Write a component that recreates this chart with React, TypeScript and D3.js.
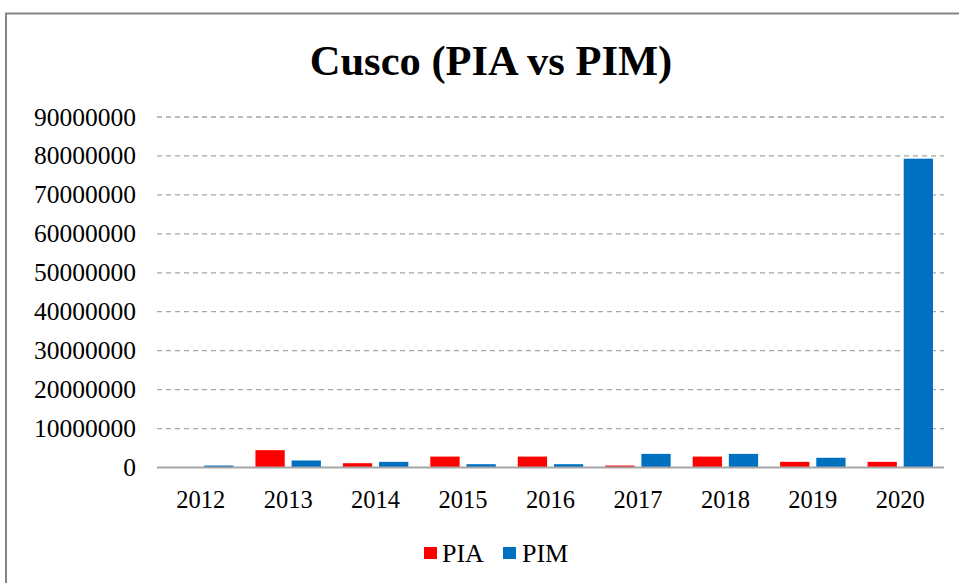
import React from "react";
import * as d3 from "d3";

const years = ["2012", "2013", "2014", "2015", "2016", "2017", "2018", "2019", "2020"];
const pia = [0, 4450000, 1100000, 2800000, 2800000, 500000, 2800000, 1450000, 1450000];
const pim = [500000, 1800000, 1450000, 850000, 850000, 3500000, 3500000, 2500000, 79300000];
const yTicks = [0, 10000000, 20000000, 30000000, 40000000, 50000000, 60000000, 70000000, 80000000, 90000000];
const seriesNames = ["PIA", "PIM"];
const colors = ["#ff0000", "#0070c0"];

export default function App() {
  const W = 959, H = 583;
  const left = 157, right = 944, top = 117, bottom = 467.5;
  const x = d3.scaleBand().domain(years).range([left, right]).paddingInner(0).paddingOuter(0);
  const inner = d3.scaleBand().domain(seriesNames).range([11, x.bandwidth() - 11]).paddingInner(0.19).paddingOuter(0);
  const y = d3.scaleLinear().domain([0, 90000000]).range([bottom, top]);
  const font = "'Liberation Serif', 'Times New Roman', serif";
  const data = [pia, pim];
  return (
    <svg width={W} height={H} style={{ position: "absolute", left: 0, top: 0, background: "#fff" }} fontFamily={font}>
      <rect x={0} y={0} width={W} height={H} fill="#fff" />
      <path d={`M6,${H + 2} V13.5 H${W + 2}`} fill="none" stroke="#868686" strokeWidth={2} />
      <text x={491} y={75} textAnchor="middle" fontSize={42.5} fontWeight="bold" fill="#000">Cusco (PIA vs PIM)</text>
      {yTicks.filter(t => t > 0).map(t => (
        <line key={t} x1={left} x2={right} y1={y(t)} y2={y(t)} stroke="#a6a6a6" strokeWidth={1.3} strokeDasharray="5,4" />
      ))}
      {yTicks.map(t => (
        <text key={t} x={136} y={y(t) + 8.5} textAnchor="end" fontSize={25.5} fill="#000">{t}</text>
      ))}
      {years.map((yr, i) => (
        <g key={yr}>
          {seriesNames.map((s, k) => {
            const v = data[k][i];
            if (!v) return null;
            return (
              <rect key={s} x={(x(yr) as number) + (inner(s) as number)} width={inner.bandwidth()}
                y={y(v)} height={bottom - y(v)} fill={colors[k]} />
            );
          })}
          <text x={(x(yr) as number) + x.bandwidth() / 2} y={508} textAnchor="middle" fontSize={24.5} fill="#000">{yr}</text>
        </g>
      ))}
      <line x1={left} x2={right} y1={bottom} y2={bottom} stroke="#a6a6a6" strokeWidth={2} />
      <g>
        <rect x={424} y={547} width={13} height={12} fill={colors[0]} />
        <text x={442} y={562} fontSize={26} fill="#000">PIA</text>
        <rect x={503} y={547} width={13} height={12} fill={colors[1]} />
        <text x={522} y={562} fontSize={26} fill="#000">PIM</text>
      </g>
    </svg>
  );
}
